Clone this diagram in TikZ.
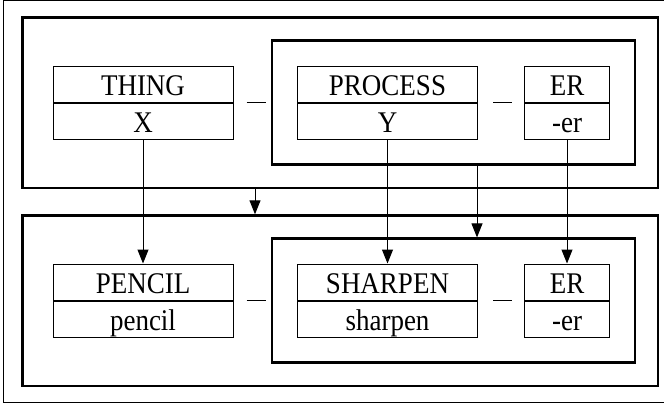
\documentclass[tikz,border=0pt]{standalone}
\usepackage{fontspec}
\setmainfont[FakeStretch=0.9]{Liberation Serif}
\usetikzlibrary{arrows.meta, positioning, fit}

\begin{document}
\begin{tikzpicture}[
    x=0.5pt, y=-0.5pt,
    cell/.style={rectangle, draw, line width=0.5pt, minimum width=90pt, minimum height=18pt, inner sep=0pt, text height=11pt, text depth=0pt, font=\fontsize{15}{18}\selectfont},
    smallcell/.style={cell, minimum width=42.5pt},
    frame/.style={rectangle, draw, line width=1.1pt, inner sep=12.5pt},
    flow/.style={-{Triangle[length=7pt, width=5.5pt]}, line width=0.5pt},
    link/.style={line width=0.5pt}
]
\useasboundingbox (0,0) rectangle (664,402);

% Schema row
\node[cell] (thing) at (143,84) {THING};
\node[cell, below=0pt of thing] (x) {X};
\node[cell] (process) at (387.5,84) {PROCESS};
\node[cell, below=0pt of process] (y) {Y};
\node[smallcell] (er) at (567,84) {ER};
\node[smallcell, below=0pt of er] (suffix) {-er};

% Instance row
\node[cell] (pencil) at (143,282) {PENCIL};
\node[cell, below=0pt of pencil] (pencilform) {pencil};
\node[cell] (sharpen) at (387.5,282) {SHARPEN};
\node[cell, below=0pt of sharpen] (sharpenform) {sharpen};
\node[smallcell] (ertwo) at (567,282) {ER};
\node[smallcell, below=0pt of ertwo] (suffixtwo) {-er};

% Frames
\coordinate (topleft) at ([xshift=-4pt]thing.north west);
\coordinate (botleft) at ([xshift=-4pt]pencil.north west);
\node[frame, fit=(process)(suffix)] (topin) {};
\node[frame, inner sep=11pt, fit=(topleft)(topin)] (topall) {};
\node[frame, fit=(sharpen)(suffixtwo)] (botin) {};
\node[frame, inner sep=11pt, fit=(botleft)(botin)] (botall) {};
\coordinate (outerleft) at ([xshift=-1pt]topall.north west);
\coordinate (outerright) at ([xshift=16pt]botall.south east);
\node[frame, line width=0.9pt, inner sep=8pt, fit=(outerleft)(outerright)] (outer) {};

% Dashes
\draw[link] ([xshift=6.5pt]x.north east) -- ++(9.5pt,0);
\draw[link] ([xshift=7.5pt]y.north east) -- ++(9.5pt,0);
\draw[link] ([xshift=6.5pt]pencilform.north east) -- ++(9.5pt,0);
\draw[link] ([xshift=7.5pt]sharpenform.north east) -- ++(9.5pt,0);

% Arrows
\coordinate (c1) at (255,200);
\coordinate (c2) at (477,200);
\draw[flow] (x) -- (pencil);
\draw[flow] (y) -- (sharpen);
\draw[flow] (suffix) -- (ertwo);
\draw[flow] (c1 |- topall.south) -- (c1 |- botall.north);
\draw[flow] (c2 |- topin.south) -- (c2 |- botin.north);

\end{tikzpicture}
\end{document}
